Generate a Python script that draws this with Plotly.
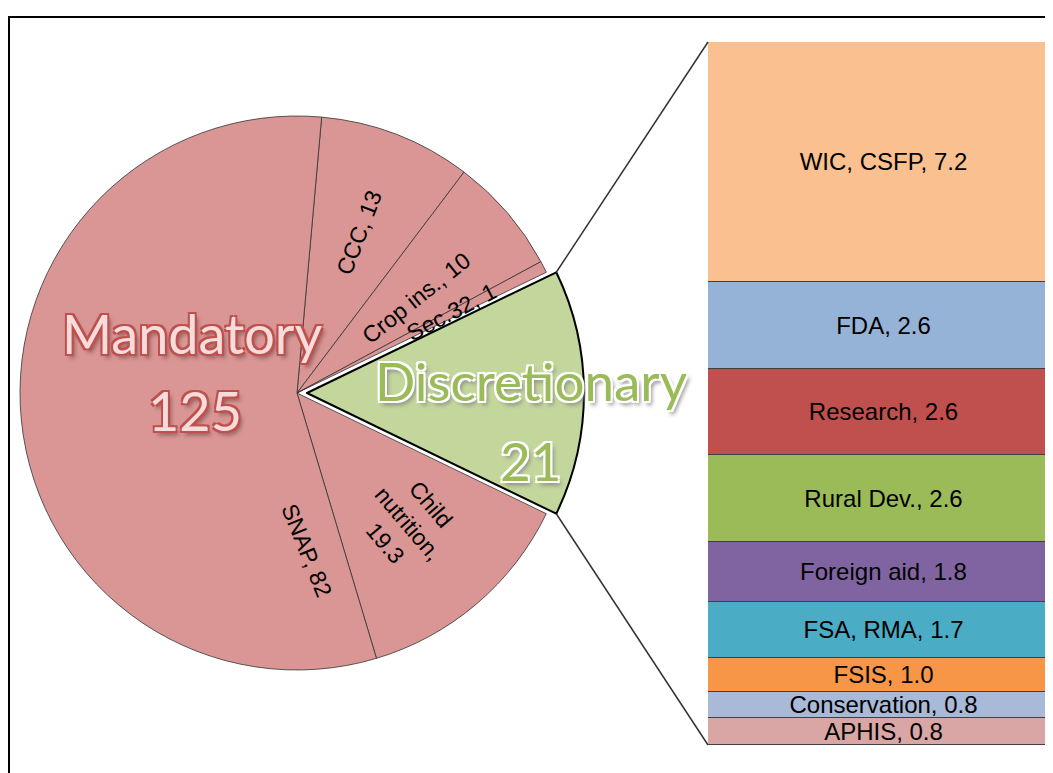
import math
import plotly.graph_objects as go

OFF = 8  # page body margin
W, H = 1053 - OFF, 773 - OFF

# pie: budget split (billion $)
pie_labels = ["CCC", "Crop ins.", "Sec.32", "Discretionary", "Child nutrition", "SNAP"]
pie_values = [13, 10, 1, 21, 19.3, 82]
pie_text = ["CCC, 13", "Crop ins., 10", "Sec.32, 1", "", "Child<br>nutrition,<br>19.3", "SNAP, 82"]
pie_colors = ["#D99694", "#D99694", "#D99694", "#C3D69B", "#D99694", "#D99694"]

# stacked bar: discretionary breakdown (bottom to top)
bar_labels = ["APHIS", "Conservation", "FSIS", "FSA, RMA", "Foreign aid",
              "Rural Dev.", "Research", "FDA", "WIC, CSFP"]
bar_values = [0.8, 0.8, 1.0, 1.7, 1.8, 2.6, 2.6, 2.6, 7.2]
bar_colors = ["#D9A6A5", "#A9BAD9", "#F79646", "#4BACC6", "#8064A2",
              "#9BBB59", "#C0504D", "#95B3D7", "#FAC090"]

# layout geometry (screen pixels)
cx, cy, r = 297 - OFF, 393 - OFF, 277
pull = 0.036
half = r * (1 + pull)
bar_left, bar_top, bar_bottom = 708 - OFF, 42 - OFF, 745 - OFF

# label placement inside slices: (angle shift from slice middle in deg, radius fraction, text angle)
label_pos = [(0, 0.62, None), (-2, 0.55, None), (0.5, 0.63, None), None, (0, 0.62, None), (88, 0.57, 68)]

total = sum(pie_values)
disc_i = pie_labels.index("Discretionary")
start = sum(pie_values[:disc_i])
mid = start + pie_values[disc_i] / 2
rotation = 90 - 360 * mid / total


def px(x, y):
    return x / W, 1 - y / H


fig = go.Figure()

fig.add_trace(go.Pie(
    labels=pie_labels, values=pie_values,
    textinfo="none", sort=False, direction="clockwise", rotation=rotation,
    pull=[pull if i == disc_i else 0 for i in range(len(pie_values))],
    marker=dict(colors=pie_colors,
                line=dict(color=["#333333"] * 3 + ["#000000"] + ["#333333"] * 2,
                          width=[0.8, 0.8, 0.8, 2, 0.8, 0.8])),
    domain=dict(x=[(cx - half) / W, (cx + half) / W],
                y=[1 - (cy + half) / H, 1 - (cy - half) / H]),
    showlegend=False, hoverinfo="label+value",
))

for lab, v, c in zip(bar_labels, bar_values, bar_colors):
    fig.add_trace(go.Bar(
        x=[0], y=[v], width=1, name=lab,
        marker=dict(color=c, line=dict(color="#404040", width=1)),
        text=[f"{lab}, {v:.1f}"], textposition="inside",
        insidetextanchor="middle", constraintext="none",
        textfont=dict(family="Liberation Sans", size=24, color="black"),
        xaxis="x2", yaxis="y2", showlegend=False,
    ))

annotations = []

# slice labels, placed radially from each slice's angle
cum = 0
for i, (t, v) in enumerate(zip(pie_text, pie_values)):
    m = cum + v / 2
    cum += v
    if label_pos[i] is None:
        continue
    shift, rf, ta = label_pos[i]
    ang = 90 - (rotation + 360 * m / total) + shift  # math angle, deg
    lx = cx + rf * r * math.cos(math.radians(ang))
    ly = cy - rf * r * math.sin(math.radians(ang))
    if ta is None:
        ta = -ang
    x, y = px(lx, ly)
    annotations.append(dict(text=t, x=x, y=y, textangle=ta,
                            font=dict(family="Liberation Sans", size=23, color="black")))

# connector lines from the pulled slice corners to the bar
a0 = math.radians(rotation + 360 * start / total)
a1 = math.radians(rotation + 360 * (start + pie_values[disc_i]) / total)
am = math.radians(rotation + 360 * mid / total)
ox, oy = cx + pull * r * math.sin(am), cy - pull * r * math.cos(am)
p0 = (ox + r * math.sin(a0), oy - r * math.cos(a0))
p1 = (ox + r * math.sin(a1), oy - r * math.cos(a1))
shapes = [
    dict(type="line", xref="paper", yref="paper", x0=p0[0] / W, y0=1 - p0[1] / H,
         x1=bar_left / W, y1=1 - bar_top / H, line=dict(color="#333333", width=1.5)),
    dict(type="line", xref="paper", yref="paper", x0=p1[0] / W, y0=1 - p1[1] / H,
         x1=bar_left / W, y1=1 - bar_bottom / H, line=dict(color="#333333", width=1.5)),
    dict(type="rect", xref="paper", yref="paper", x0=1 / W, y0=-0.05, x1=1.05, y1=1 - 9 / H,
         line=dict(color="black", width=2)),
]

mand_shadow = ("-2px -2px 0 #C0504D, 2px -2px 0 #C0504D, -2px 2px 0 #C0504D, "
               "2px 2px 0 #C0504D, 3px 4px 4px #8a5a5a")
disc_shadow = ("-2px -2px 0 #ffffff, 2px -2px 0 #ffffff, -2px 2px 0 #ffffff, "
               "2px 2px 0 #ffffff, 3px 4px 4px #888888")
for t, x, y, col, sh, sz in [
    ("Mandatory", 192, 333, "#F6DCDB", mand_shadow, 54),
    ("125", 195, 410, "#F6DCDB", mand_shadow, 54),
    ("Discretionary", 531, 380, "#9BBB59", disc_shadow, 53),
    ("21", 530, 460, "#9BBB59", disc_shadow, 53),
]:
    ax, ay = px(x - OFF, y - OFF)
    annotations.append(dict(text=t, x=ax, y=ay,
                            font=dict(family="Lato", size=sz, color=col, shadow=sh)))

for a in annotations:
    a.update(xref="paper", yref="paper", showarrow=False, xanchor="center", yanchor="middle")

fig.update_layout(
    width=W, height=H, margin=dict(l=0, r=0, t=0, b=0),
    paper_bgcolor="white", plot_bgcolor="white",
    barmode="stack", bargap=0,
    xaxis2=dict(domain=[bar_left / W, 1], range=[-0.5, 0.48], visible=False, anchor="y2"),
    yaxis2=dict(domain=[1 - bar_bottom / H, 1 - bar_top / H], range=[0, sum(bar_values)],
                visible=False, anchor="x2"),
    shapes=shapes, annotations=annotations,
)

fig.write_html("out.html")
